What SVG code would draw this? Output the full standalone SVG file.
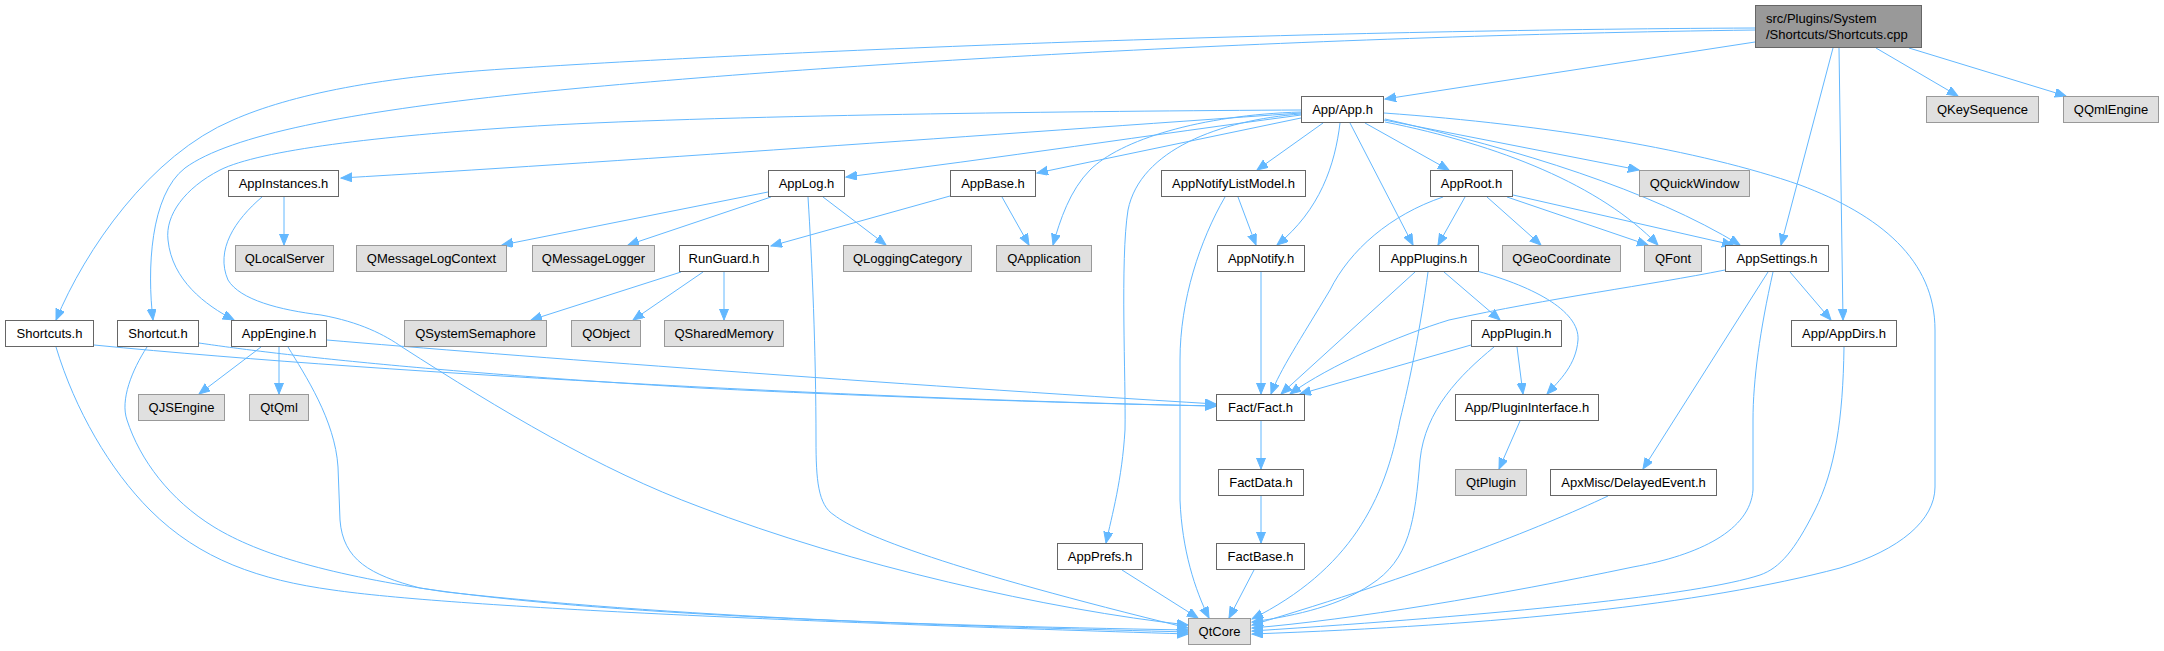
<svg xmlns="http://www.w3.org/2000/svg" width="2164" height="651" viewBox="0 0 2164 651">
<style>
.n rect{fill:#ffffff;stroke:#666666;stroke-width:1}
.g rect{fill:#e0e0e0;stroke:#999999;stroke-width:1}
.m rect{fill:#999999;stroke:#666666;stroke-width:1}
text{font-family:"Liberation Sans",Arial,sans-serif;font-size:13px;fill:#000000;text-anchor:middle}
.m text{text-anchor:start}
#edges path{fill:none;stroke:#63b8ff;stroke-width:1;marker-end:url(#arr)}
</style>
<defs>
<marker id="arr" markerWidth="12" markerHeight="10" refX="11" refY="4.5" orient="auto" markerUnits="userSpaceOnUse">
<path d="M0,0 L11,4.5 L0,9 z" fill="#63b8ff" stroke="#63b8ff" stroke-width="1"/>
</marker>
</defs>
<rect width="2164" height="651" fill="#ffffff"/>
<g id="edges">
<path d="M1755,42 L1385,99"/>
<path d="M1755,28 C1300,30 800,50 520,68 C380,76 290,95 233,120 C150,155 85,250 56,320"/>
<path d="M1755,30 C1300,36 800,65 520,94 C350,112 230,135 185,168 C150,195 147,270 153,320"/>
<path d="M1301,110 C1100,111 700,115 520,127 C380,136 260,150 220,170 C185,188 165,215 168,240 C172,280 205,305 234,320"/>
<path d="M1301,113 C1000,134 600,163 341,178"/>
<path d="M1301,115 C1150,135 1000,158 846,177"/>
<path d="M1301,118 L1037,173"/>
<path d="M1301,112 C1200,115 1120,140 1090,170 C1070,190 1060,220 1053,245"/>
<path d="M1301,114 C1220,120 1140,150 1128,210 C1120,260 1126,380 1125,430 C1122,480 1112,515 1106,543"/>
<path d="M1323,123 L1257,170"/>
<path d="M1340,123 C1335,165 1320,210 1277,245"/>
<path d="M1350,123 L1413,245"/>
<path d="M1365,123 L1449,170"/>
<path d="M1384,120 L1639,170"/>
<path d="M1385,122 C1500,145 1600,185 1658,245"/>
<path d="M1385,119 C1520,150 1650,190 1740,245"/>
<path d="M1384,113 C1550,125 1700,150 1800,185 C1880,215 1935,260 1935,330 L1935,487 C1935,520 1900,550 1840,568 C1700,605 1500,625 1252,634"/>
<path d="M1833,48 L1781,245"/>
<path d="M1839,48 L1843,320"/>
<path d="M1876,48 L1958,96"/>
<path d="M1909,48 L2066,96"/>
<path d="M284,197 L284,245"/>
<path d="M262,197 C235,220 215,250 228,280 C240,300 280,310 321,315 C360,322 385,335 402,347 C500,410 600,470 700,507 C850,565 1050,610 1188,625"/>
<path d="M768,192 L502,245"/>
<path d="M771,197 L628,245"/>
<path d="M823,197 L886,245"/>
<path d="M808,197 C812,260 816,350 816,440 C816,480 818,505 834,515 C860,535 950,570 1188,628"/>
<path d="M950,196 L771,246"/>
<path d="M1002,197 L1029,245"/>
<path d="M681,272 L531,320"/>
<path d="M703,272 L633,320"/>
<path d="M724,272 L724,320"/>
<path d="M261,347 L199,394"/>
<path d="M279,347 L279,394"/>
<path d="M288,347 C305,375 335,420 338,467 L340,520 C343,560 370,575 420,588 C600,615 900,625 1188,630"/>
<path d="M327,340 C500,355 900,385 1216,404"/>
<path d="M94,345 C400,375 900,400 1216,406"/>
<path d="M199,343 C260,352 400,370 700,388 C900,398 1100,404 1216,406"/>
<path d="M56,347 C75,410 110,470 150,510 C200,560 260,580 333,590 C450,607 800,622 1188,634"/>
<path d="M147,347 C132,370 120,400 127,420 C140,460 170,500 214,527 C260,555 330,575 446,592 C700,620 1000,627 1188,632"/>
<path d="M1238,197 L1256,245"/>
<path d="M1225,197 C1200,240 1180,300 1180,360 L1180,500 C1182,550 1195,590 1209,618"/>
<path d="M1261,272 L1261,394"/>
<path d="M1443,197 C1390,215 1350,250 1330,290 C1300,340 1280,370 1271,394"/>
<path d="M1465,197 L1438,245"/>
<path d="M1487,197 L1541,245"/>
<path d="M1507,197 L1648,245"/>
<path d="M1513,195 L1733,245"/>
<path d="M1444,272 L1500,320"/>
<path d="M1473,270 C1530,285 1580,310 1578,340 C1576,365 1560,380 1547,394"/>
<path d="M1415,272 L1281,394"/>
<path d="M1428,272 C1420,330 1410,380 1400,420 C1385,500 1350,570 1252,619"/>
<path d="M1517,347 L1523,394"/>
<path d="M1471,345 L1300,394"/>
<path d="M1494,347 C1460,375 1425,410 1420,460 C1415,520 1410,560 1370,585 C1340,605 1300,615 1252,622"/>
<path d="M1520,421 L1499,469"/>
<path d="M1790,272 L1831,320"/>
<path d="M1768,272 L1643,469"/>
<path d="M1725,270 C1650,285 1550,298 1449,320 C1400,335 1330,365 1290,394"/>
<path d="M1773,272 C1760,330 1753,380 1753,420 L1753,490 C1750,530 1700,555 1633,567 C1500,595 1350,620 1252,628"/>
<path d="M1844,347 C1843,420 1835,470 1815,510 C1795,550 1780,568 1760,575 C1700,595 1500,615 1252,631"/>
<path d="M1608,496 C1540,528 1420,575 1252,625"/>
<path d="M1261,421 L1261,469"/>
<path d="M1261,496 L1261,543"/>
<path d="M1254,570 L1229,618"/>
<path d="M1122,570 L1198,618"/>
</g>
<g id="node_main" class="m"><rect x="1755.5" y="5.5" width="166" height="42"/><text x="1766" y="22.5">src/Plugins/System</text><text x="1766" y="38.5">/Shortcuts/Shortcuts.cpp</text></g>
<g id="node_app" class="n"><rect x="1301.5" y="96.5" width="82" height="26"/><text x="1342.5" y="114">App/App.h</text></g>
<g id="node_qkeysequence" class="g"><rect x="1926.5" y="96.5" width="112" height="26"/><text x="1982.5" y="114">QKeySequence</text></g>
<g id="node_qqmlengine" class="g"><rect x="2063.5" y="96.5" width="95" height="26"/><text x="2111" y="114">QQmlEngine</text></g>
<g id="node_appinstances" class="n"><rect x="228.5" y="170.5" width="110" height="26"/><text x="283.5" y="188">AppInstances.h</text></g>
<g id="node_applog" class="n"><rect x="768.5" y="170.5" width="76" height="26"/><text x="806.5" y="188">AppLog.h</text></g>
<g id="node_appbase" class="n"><rect x="950.5" y="170.5" width="85" height="26"/><text x="993" y="188">AppBase.h</text></g>
<g id="node_appnotifylistmodel" class="n"><rect x="1161.5" y="170.5" width="144" height="26"/><text x="1233.5" y="188">AppNotifyListModel.h</text></g>
<g id="node_approot" class="n"><rect x="1430.5" y="170.5" width="82" height="26"/><text x="1471.5" y="188">AppRoot.h</text></g>
<g id="node_qquickwindow" class="g"><rect x="1639.5" y="170.5" width="110" height="26"/><text x="1694.5" y="188">QQuickWindow</text></g>
<g id="node_qlocalserver" class="g"><rect x="235.5" y="245.5" width="98" height="26"/><text x="284.5" y="263">QLocalServer</text></g>
<g id="node_qmessagelogcontext" class="g"><rect x="356.5" y="245.5" width="150" height="26"/><text x="431.5" y="263">QMessageLogContext</text></g>
<g id="node_qmessagelogger" class="g"><rect x="532.5" y="245.5" width="122" height="26"/><text x="593.5" y="263">QMessageLogger</text></g>
<g id="node_runguard" class="n"><rect x="679.5" y="245.5" width="89" height="26"/><text x="724" y="263">RunGuard.h</text></g>
<g id="node_qloggingcategory" class="g"><rect x="843.5" y="245.5" width="128" height="26"/><text x="907.5" y="263">QLoggingCategory</text></g>
<g id="node_qapplication" class="g"><rect x="996.5" y="245.5" width="95" height="26"/><text x="1044" y="263">QApplication</text></g>
<g id="node_appnotify" class="n"><rect x="1217.5" y="245.5" width="87" height="26"/><text x="1261" y="263">AppNotify.h</text></g>
<g id="node_appplugins" class="n"><rect x="1379.5" y="245.5" width="99" height="26"/><text x="1429" y="263">AppPlugins.h</text></g>
<g id="node_qgeocoordinate" class="g"><rect x="1502.5" y="245.5" width="118" height="26"/><text x="1561.5" y="263">QGeoCoordinate</text></g>
<g id="node_qfont" class="g"><rect x="1644.5" y="245.5" width="57" height="26"/><text x="1673" y="263">QFont</text></g>
<g id="node_appsettings" class="n"><rect x="1725.5" y="245.5" width="103" height="26"/><text x="1777" y="263">AppSettings.h</text></g>
<g id="node_shortcuts_h" class="n"><rect x="5.5" y="320.5" width="88" height="26"/><text x="49.5" y="338">Shortcuts.h</text></g>
<g id="node_shortcut_h" class="n"><rect x="117.5" y="320.5" width="81" height="26"/><text x="158" y="338">Shortcut.h</text></g>
<g id="node_appengine" class="n"><rect x="231.5" y="320.5" width="95" height="26"/><text x="279" y="338">AppEngine.h</text></g>
<g id="node_qsystemsemaphore" class="g"><rect x="404.5" y="320.5" width="142" height="26"/><text x="475.5" y="338">QSystemSemaphore</text></g>
<g id="node_qobject" class="g"><rect x="571.5" y="320.5" width="69" height="26"/><text x="606" y="338">QObject</text></g>
<g id="node_qsharedmemory" class="g"><rect x="664.5" y="320.5" width="119" height="26"/><text x="724" y="338">QSharedMemory</text></g>
<g id="node_appplugin" class="n"><rect x="1471.5" y="320.5" width="90" height="26"/><text x="1516.5" y="338">AppPlugin.h</text></g>
<g id="node_appdirs" class="n"><rect x="1791.5" y="320.5" width="105" height="26"/><text x="1844" y="338">App/AppDirs.h</text></g>
<g id="node_qjsengine" class="g"><rect x="138.5" y="394.5" width="86" height="26"/><text x="181.5" y="412">QJSEngine</text></g>
<g id="node_qtqml" class="g"><rect x="249.5" y="394.5" width="59" height="26"/><text x="279" y="412">QtQml</text></g>
<g id="node_fact" class="n"><rect x="1216.5" y="394.5" width="88" height="26"/><text x="1260.5" y="412">Fact/Fact.h</text></g>
<g id="node_plugininterface" class="n"><rect x="1455.5" y="394.5" width="143" height="26"/><text x="1527" y="412">App/PluginInterface.h</text></g>
<g id="node_factdata" class="n"><rect x="1218.5" y="469.5" width="85" height="26"/><text x="1261" y="487">FactData.h</text></g>
<g id="node_qtplugin" class="g"><rect x="1455.5" y="469.5" width="71" height="26"/><text x="1491" y="487">QtPlugin</text></g>
<g id="node_delayedevent" class="n"><rect x="1550.5" y="469.5" width="166" height="26"/><text x="1633.5" y="487">ApxMisc/DelayedEvent.h</text></g>
<g id="node_appprefs" class="n"><rect x="1057.5" y="543.5" width="85" height="26"/><text x="1100" y="561">AppPrefs.h</text></g>
<g id="node_factbase" class="n"><rect x="1216.5" y="543.5" width="88" height="26"/><text x="1260.5" y="561">FactBase.h</text></g>
<g id="node_qtcore" class="g"><rect x="1188.5" y="618.5" width="62" height="26"/><text x="1219.5" y="636">QtCore</text></g>
</svg>
